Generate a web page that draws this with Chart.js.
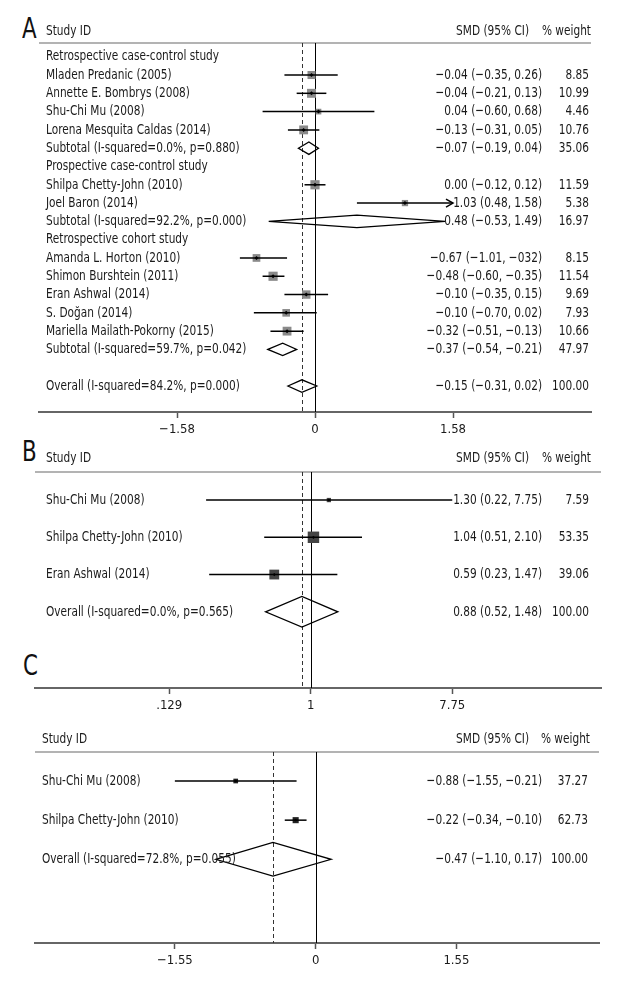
<!DOCTYPE html>
<html>
<head>
<meta charset="utf-8">
<script src="https://cdn.jsdelivr.net/npm/chart.js@4.4.1/dist/chart.umd.min.js"></script>
<style>
  body { margin: 0; background: #fff; width: 630px; height: 990px; position: relative; overflow: hidden; }
  canvas { position: absolute; left: 0; }
  .letter { position: absolute; font-family: "Liberation Sans Narrow", "DejaVu Sans Condensed", sans-serif; font-size: 28px; color: #111; line-height: 1; transform: scaleX(0.85); transform-origin: left top; }
</style>
</head>
<body>
<div class="letter" style="left:22px;top:15px">A</div>
<div class="letter" style="left:22px;top:438px">B</div>
<div class="letter" style="left:23px;top:652px">C</div>
<canvas id="chartA" width="630" height="440" style="top:0px"></canvas>
<canvas id="chartB" width="630" height="280" style="top:440px"></canvas>
<canvas id="chartC" width="630" height="270" style="top:720px"></canvas>
<script>
// ---- panel A: SMD by study design ----
const rowsA = ["Retrospective case-control study", "Mladen Predanic (2005)", "Annette E. Bombrys (2008)",
  "Shu-Chi Mu (2008)", "Lorena Mesquita Caldas (2014)", "Subtotal (I-squared=0.0%, p=0.880)",
  "Prospective case-control study", "Shilpa Chetty-John (2010)", "Joel Baron (2014)",
  "Subtotal (I-squared=92.2%, p=0.000)", "Retrospective cohort study", "Amanda L. Horton (2010)",
  "Shimon Burshtein (2011)", "Eran Ashwal (2014)", "S. Doğan (2014)", "Mariella Mailath-Pokorny (2015)",
  "Subtotal (I-squared=59.7%, p=0.042)", "", "Overall (I-squared=84.2%, p=0.000)"];
const kindA = ["h", "s", "s", "s", "s", "d", "h", "s", "s", "d", "h", "s", "s", "s", "s", "s", "d", "", "d"];
const estA = [null, -0.04, -0.04, 0.04, -0.13, -0.07, null, 0.00, 1.03, 0.48, null, -0.67, -0.48, -0.10, -0.33, -0.32, -0.37, null, -0.15];
const lowA = [null, -0.35, -0.21, -0.60, -0.31, -0.19, null, -0.12, 0.48, -0.53, null, -0.86, -0.60, -0.35, -0.70, -0.51, -0.54, null, -0.31];
const highA = [null, 0.26, 0.13, 0.68, 0.05, 0.04, null, 0.12, 1.58, 1.49, null, -0.32, -0.35, 0.15, 0.02, -0.13, -0.21, null, 0.02];
const smdTextA = ["", "−0.04 (−0.35, 0.26)", "−0.04 (−0.21, 0.13)", "0.04 (−0.60, 0.68)", "−0.13 (−0.31, 0.05)",
  "−0.07 (−0.19, 0.04)", "", "0.00 (−0.12, 0.12)", "1.03 (0.48, 1.58)", "0.48 (−0.53, 1.49)", "",
  "−0.67 (−1.01, −032)", "−0.48 (−0.60, −0.35)", "−0.10 (−0.35, 0.15)", "−0.10 (−0.70, 0.02)",
  "−0.32 (−0.51, −0.13)", "−0.37 (−0.54, −0.21)", "", "−0.15 (−0.31, 0.02)"];
const weightA = ["", "8.85", "10.99", "4.46", "10.76", "35.06", "", "11.59", "5.38", "16.97", "",
  "8.15", "11.54", "9.69", "7.93", "10.66", "47.97", "", "100.00"];
const arrowA = [8];
const ticksA = [-1.58, 0, 1.58];
const tickTextA = ["−1.58", "0", "1.58"];

// ---- panel B ----
const rowsB = ["Shu-Chi Mu (2008)", "Shilpa Chetty-John (2010)", "Eran Ashwal (2014)", "Overall (I-squared=0.0%, p=0.565)"];
const kindB = ["s", "s", "s", "d"];
const estB = [1.30, 1.04, 0.59, 0.88];
const lowB = [0.22, 0.51, 0.23, 0.52];
const highB = [7.75, 2.10, 1.47, 1.48];
const smdTextB = ["1.30 (0.22, 7.75)", "1.04 (0.51, 2.10)", "0.59 (0.23, 1.47)", "0.88 (0.52, 1.48)"];
const weightB = ["7.59", "53.35", "39.06", "100.00"];
const ticksB = [0.129, 1, 7.75];
const tickTextB = [".129", "1", "7.75"];

// ---- panel C ----
const rowsC = ["Shu-Chi Mu (2008)", "Shilpa Chetty-John (2010)", "Overall (I-squared=72.8%, p=0.055)"];
const kindC = ["s", "s", "d"];
const estC = [-0.88, -0.22, -0.47];
const lowC = [-1.55, -0.34, -1.10];
const highC = [-0.21, -0.10, 0.17];
const smdTextC = ["−0.88 (−1.55, −0.21)", "−0.22 (−0.34, −0.10)", "−0.47 (−1.10, 0.17)"];
const weightC = ["37.27", "62.73", "100.00"];
const ticksC = [-1.55, 0, 1.55];
const tickTextC = ["−1.55", "0", "1.55"];

const FONT = '"Liberation Sans Narrow", "DejaVu Sans Condensed", sans-serif';
const TEXT = "#1a1a1a";
const SQUEEZE = 0.81; // reference uses a condensed face

function label(ctx, txt, x, y, align) {
  ctx.save();
  ctx.translate(x, y);
  ctx.scale(SQUEEZE, 1);
  ctx.textAlign = align;
  ctx.fillText(txt, 0, 0);
  ctx.restore();
}

function forest(id, p) {
  const n = p.rows.length;
  const squares = [], dots = [];
  for (let i = 0; i < n; i++) {
    if (p.kind[i] !== "s") continue;
    const side = p.sq * Math.sqrt(parseFloat(p.weight[i]));
    squares.push({ x: p.est[i], y: i, r: side / Math.SQRT2 });
    dots.push({ x: p.est[i], y: i });
  }
  const nullVal = p.log ? 1 : 0;
  const overall = p.est[n - 1];

  const plugin = {
    id: "forest" + id,
    beforeDatasetsDraw(chart) {
      const { ctx, chartArea: a, scales: { x } } = chart;
      ctx.save();
      // header rule
      ctx.strokeStyle = "#9a9a9a"; ctx.lineWidth = 1.5;
      ctx.beginPath(); ctx.moveTo(a.left, a.top); ctx.lineTo(a.right, a.top); ctx.stroke();
      // line of no effect
      const x0 = Math.round(x.getPixelForValue(nullVal)) + 0.5;
      ctx.strokeStyle = "#000"; ctx.lineWidth = 1;
      ctx.beginPath(); ctx.moveTo(x0, a.top); ctx.lineTo(x0, a.bottom); ctx.stroke();
      // overall estimate
      const xo = Math.round(x.getPixelForValue(overall)) + 0.5;
      ctx.strokeStyle = "#333"; ctx.setLineDash([4, 3]);
      ctx.beginPath(); ctx.moveTo(xo, a.top); ctx.lineTo(xo, a.bottom); ctx.stroke();
      ctx.restore();
    },
    afterDatasetDraw(chart, args) {
      if (args.index !== 0) return;
      const { ctx, scales: { x, y } } = chart;
      ctx.save();
      ctx.strokeStyle = "#000"; ctx.lineWidth = 1.5;
      for (let i = 0; i < n; i++) {
        if (p.kind[i] !== "s") continue;
        const yy = y.getPixelForValue(i);
        const xl = x.getPixelForValue(p.low[i]), xh = x.getPixelForValue(p.high[i]);
        ctx.beginPath(); ctx.moveTo(xl, yy); ctx.lineTo(xh, yy); ctx.stroke();
        if (p.arrows && p.arrows.includes(i)) {
          ctx.beginPath(); ctx.moveTo(xh - 7, yy - 4); ctx.lineTo(xh, yy); ctx.lineTo(xh - 7, yy + 4); ctx.stroke();
        }
      }
      ctx.restore();
    },
    afterDatasetsDraw(chart) {
      const { ctx, chartArea: a, scales: { x, y } } = chart;
      ctx.save();
      // pooled diamonds
      ctx.strokeStyle = "#000"; ctx.lineWidth = 1.3;
      const hh = Math.abs(y.getPixelForValue(p.dh) - y.getPixelForValue(0));
      for (let i = 0; i < n; i++) {
        if (p.kind[i] !== "d") continue;
        const yy = y.getPixelForValue(i);
        const xl = x.getPixelForValue(p.low[i]), xh = x.getPixelForValue(p.high[i]), xe = x.getPixelForValue(p.est[i]);
        ctx.beginPath();
        ctx.moveTo(xl, yy); ctx.lineTo(xe, yy - hh); ctx.lineTo(xh, yy); ctx.lineTo(xe, yy + hh); ctx.closePath();
        ctx.stroke();
      }
      // text columns
      ctx.fillStyle = TEXT; ctx.font = "14.5px " + FONT; ctx.textBaseline = "middle";
      const hy = a.top - p.headGap;
      label(ctx, "Study ID", p.nameX, hy, "left");
      label(ctx, "SMD (95% CI)", p.smdHeadX, hy, "right");
      label(ctx, "% weight", p.wHeadX, hy, "right");
      for (let i = 0; i < n; i++) {
        const yy = y.getPixelForValue(i);
        label(ctx, p.rows[i], p.nameX, yy, "left");
        label(ctx, p.smd[i], p.smdX, yy, "right");
        label(ctx, p.weight[i], p.wX, yy, "right");
      }
      ctx.restore();
    }
  };

  return new Chart(document.getElementById(id), {
    type: "scatter",
    data: {
      datasets: [
        { data: squares, order: 1, pointStyle: "rect", backgroundColor: p.sqColor, borderWidth: 0,
          pointRadius: c => c.raw.r, pointHoverRadius: c => c.raw.r },
        { data: dots, order: 0, pointStyle: "rectRot", backgroundColor: "#000", borderWidth: 0,
          pointRadius: p.dotR, pointHoverRadius: p.dotR }
      ]
    },
    options: {
      responsive: false,
      animation: false,
      events: [],
      layout: { padding: { top: p.top, left: p.left, right: 630 - p.right, bottom: 0 } },
      plugins: { legend: { display: false }, tooltip: { enabled: false } },
      scales: {
        x: {
          type: p.log ? "logarithmic" : "linear",
          min: p.min, max: p.max,
          afterBuildTicks: s => { s.ticks = p.ticks.map(v => ({ value: v })); },
          afterFit: s => { s.height = p.axisH; },
          ticks: { callback: (v, i) => p.tickText[i], font: { family: FONT, size: 13 }, color: TEXT,
            padding: 4, maxRotation: 0, autoSkip: false },
          grid: { drawOnChartArea: false, drawTicks: true, tickLength: 6, tickColor: "#555", tickWidth: 1.5 },
          border: { color: "#666", width: 2 }
        },
        y: { type: "linear", display: false, reverse: true, min: p.ymin, max: p.ymax }
      }
    },
    plugins: [plugin]
  });
}

forest("chartA", {
  rows: rowsA, kind: kindA, est: estA, low: lowA, high: highA, smd: smdTextA, weight: weightA, arrows: arrowA,
  ticks: ticksA, tickText: tickTextA, min: -3.16, max: 3.16,
  top: 43, left: 39, right: 591, axisH: 28, ymin: -0.75, ymax: 19.42,
  sq: 2.7, sqColor: "#8a8a8a", dotR: 2, dh: 0.34, headGap: 12,
  nameX: 46, smdX: 542, smdHeadX: 529, wX: 589, wHeadX: 591
});
forest("chartB", {
  rows: rowsB, kind: kindB, est: estB, low: lowB, high: highB, smd: smdTextB, weight: weightB, log: true,
  ticks: ticksB, tickText: tickTextB, min: 0.0185, max: 66.7,
  top: 32, left: 35, right: 601, axisH: 32, ymin: -0.753, ymax: 5.046,
  sq: 1.57, sqColor: "#444", dotR: 1.6, dh: 0.41, headGap: 14,
  nameX: 46, smdX: 542, smdHeadX: 529, wX: 589, wHeadX: 591
});
forest("chartC", {
  rows: rowsC, kind: kindC, est: estC, low: lowC, high: highC, smd: smdTextC, weight: weightC,
  ticks: ticksC, tickText: tickTextC, min: -3.09, max: 3.12,
  top: 32, left: 35, right: 599, axisH: 47, ymin: -0.741, ymax: 4.138,
  sq: 0.77, sqColor: "#222", dotR: 1.4, dh: 0.43, headGap: 13,
  nameX: 42, smdX: 542, smdHeadX: 529, wX: 588, wHeadX: 590
});
</script>
</body>
</html>
